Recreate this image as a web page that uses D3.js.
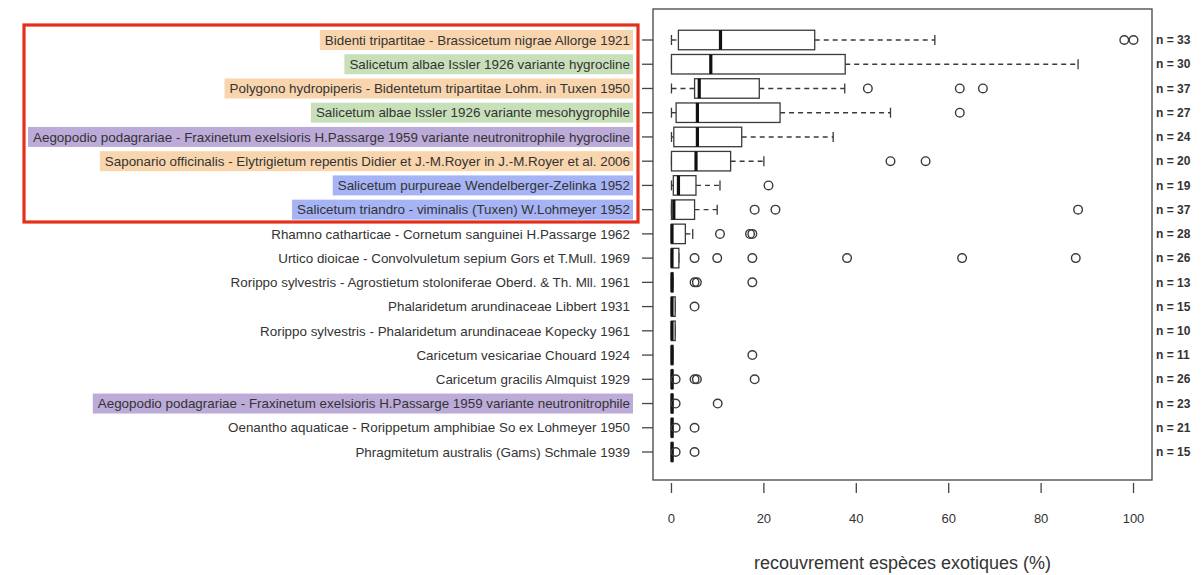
<!DOCTYPE html>
<html>
<head>
<meta charset="utf-8">
<script src="https://cdn.jsdelivr.net/npm/d3@7"></script>
<style>
  body { margin: 0; background: #fff; }
  text { font-family: "Liberation Sans", Arial, sans-serif; }
</style>
</head>
<body>
<script>
// vegetation associations, top to bottom
const categories = [
  'Bidenti tripartitae - Brassicetum nigrae Allorge 1921',
  'Salicetum albae Issler 1926 variante hygrocline',
  'Polygono hydropiperis - Bidentetum tripartitae Lohm. in Tuxen 1950',
  'Salicetum albae Issler 1926 variante mesohygrophile',
  'Aegopodio podagrariae - Fraxinetum exelsioris H.Passarge 1959 variante neutronitrophile hygrocline',
  'Saponario officinalis - Elytrigietum repentis Didier et J.-M.Royer in J.-M.Royer et al. 2006',
  'Salicetum purpureae Wendelberger-Zelinka 1952',
  'Salicetum triandro - viminalis (Tuxen) W.Lohmeyer 1952',
  'Rhamno catharticae - Cornetum sanguinei H.Passarge 1962',
  'Urtico dioicae - Convolvuletum sepium Gors et T.Mull. 1969',
  'Rorippo sylvestris - Agrostietum stoloniferae Oberd. & Th. Mll. 1961',
  'Phalaridetum arundinaceae Libbert 1931',
  'Rorippo sylvestris - Phalaridetum arundinaceae Kopecky 1961',
  'Caricetum vesicariae Chouard 1924',
  'Caricetum gracilis Almquist 1929',
  'Aegopodio podagrariae - Fraxinetum exelsioris H.Passarge 1959 variante neutronitrophile',
  'Oenantho aquaticae - Rorippetum amphibiae So ex Lohmeyer 1950',
  'Phragmitetum australis (Gams) Schmale 1939'
];

// highlight group of each label (null = none)
const highlight = ['orange', 'green', 'orange', 'green', 'purple', 'orange', 'blue', 'blue',
  null, null, null, null, null, null, null, 'purple', null, null];

const nValues = [33, 30, 37, 27, 24, 20, 19, 37, 28, 26, 13, 15, 10, 11, 26, 23, 21, 15];

// box statistics (% cover)
const whiskerLow  = [0, 0, 0, 0, 0, 0, 0, 0, 0, 0, 0, 0, 0, 0, 0, 0, 0, 0];
const q1          = [1.5, 0, 5, 1, 0.5, 0, 0.4, 0, 0, 0, 0, 0, 0, 0, 0, 0, 0, 0];
const median      = [10.5, 8.4, 5.9, 5.5, 5.5, 5.2, 1.4, 0.4, 0, 0, 0, 0, 0, 0, 0, 0, 0, 0];
const q3          = [31, 37.6, 19, 23.5, 15.2, 12.8, 5.3, 5, 3, 1.6, 0.3, 0.8, 0.8, 0.3, 0.3, 0.3, 0.3, 0.3];
const whiskerHigh = [57, 88, 37.5, 47.4, 35, 20, 10.5, 9.9, 4.6, 1.6, 0.3, 0.8, 0.8, 0.3, 0.3, 0.3, 0.3, 0.3];

const outliers = [
  [98, 100],
  [],
  [42.5, 62.4, 67.4],
  [62.4],
  [],
  [47.4, 55],
  [21],
  [18, 22.5, 88],
  [10.5, 17, 17.5],
  [5, 9.9, 17.5, 38, 62.9, 87.5],
  [5, 5.5, 17.5],
  [5],
  [],
  [17.5],
  [0.9, 5, 5.5, 18],
  [0.9, 10],
  [0.9, 5],
  [0.9, 5]
];

const xTicks = [0, 20, 40, 60, 80, 100];

const colors = {
  orange: '#f9d5ae',
  green: '#c8e0ba',
  purple: '#bcabd9',
  blue: '#a6b4f5'
};

const frame = { left: 653, right: 1152, top: 9, bottom: 480 };

const svg = d3.select('body').append('svg')
  .attr('width', 1201)
  .attr('height', 575);

svg.append('rect')
  .attr('width', 1201).attr('height', 575)
  .attr('fill', '#fff');

const x = d3.scaleLinear().domain([-4, 104]).range([frame.left, frame.right]);
const y = d3.scalePoint().domain(d3.range(categories.length)).range([40, 452]);

const boxH = 19.5;
const capH = 10;
const ink = '#3a3a3a';

// frame
svg.append('rect')
  .attr('x', frame.left).attr('y', frame.top)
  .attr('width', frame.right - frame.left)
  .attr('height', frame.bottom - frame.top)
  .attr('fill', 'none')
  .attr('stroke', '#444')
  .attr('stroke-width', 1.3);

// bottom axis ticks + labels (no axis line, like R)
const xAxis = svg.append('g').attr('transform', `translate(0, ${frame.bottom + 3})`);
xAxis.selectAll('line').data(xTicks).join('line')
  .attr('x1', d => x(d)).attr('x2', d => x(d))
  .attr('y1', 0).attr('y2', 10)
  .attr('stroke', '#444').attr('stroke-width', 1.3);
xAxis.selectAll('text').data(xTicks).join('text')
  .attr('x', d => x(d)).attr('y', 40)
  .attr('text-anchor', 'middle')
  .attr('font-size', 13)
  .attr('fill', '#333')
  .text(d => d);

svg.append('text')
  .attr('x', x(50)).attr('y', 569)
  .attr('text-anchor', 'middle')
  .attr('font-size', 18)
  .attr('fill', '#333')
  .text('recouvrement espèces exotiques (%)');

// left category ticks and labels
const rows = svg.append('g');
rows.selectAll('line.tick').data(categories).join('line')
  .attr('class', 'tick')
  .attr('x1', frame.left - 11).attr('x2', frame.left)
  .attr('y1', (d, i) => y(i)).attr('y2', (d, i) => y(i))
  .attr('stroke', '#444').attr('stroke-width', 1.3);

const labelRight = 630;
const labels = rows.selectAll('g.label').data(categories).join('g')
  .attr('class', 'label')
  .attr('transform', (d, i) => `translate(${labelRight}, ${y(i)})`);

labels.each(function(d, i) {
  const g = d3.select(this);
  const t = g.append('text')
    .attr('text-anchor', 'end')
    .attr('dy', '0.35em')
    .attr('font-size', 13.4)
    .attr('fill', '#333')
    .text(d);
  if (highlight[i]) {
    const w = t.node().getComputedTextLength();
    g.insert('rect', 'text')
      .attr('x', -w - 5).attr('y', -10)
      .attr('width', w + 8).attr('height', 20)
      .attr('fill', colors[highlight[i]]);
  }
});

// red frame round the first eight rows
svg.append('rect')
  .attr('x', 24).attr('y', 25)
  .attr('width', 638 - 24).attr('height', 222 - 25)
  .attr('fill', 'none')
  .attr('stroke', '#e3301b')
  .attr('stroke-width', 3.2);

// n counts on the right
svg.append('g').selectAll('text').data(nValues).join('text')
  .attr('x', frame.right + 4)
  .attr('y', (d, i) => y(i))
  .attr('dy', '0.35em')
  .attr('font-size', 12)
  .attr('font-weight', 'bold')
  .attr('fill', '#333')
  .text(d => `n = ${d}`);

// boxplots
const boxes = svg.append('g').selectAll('g').data(categories).join('g')
  .attr('transform', (d, i) => `translate(0, ${y(i)})`);

boxes.each(function(d, i) {
  const g = d3.select(this);
  // whiskers
  if (q1[i] > whiskerLow[i]) {
    g.append('line')
      .attr('x1', x(whiskerLow[i])).attr('x2', x(q1[i]))
      .attr('stroke', ink).attr('stroke-width', 1.4)
      .attr('stroke-dasharray', '5,4');
  }
  if (whiskerHigh[i] > q3[i]) {
    g.append('line')
      .attr('x1', x(q3[i])).attr('x2', x(whiskerHigh[i]))
      .attr('stroke', ink).attr('stroke-width', 1.4)
      .attr('stroke-dasharray', '5,4');
  }
  // staples
  [whiskerLow[i], whiskerHigh[i]].forEach(v => {
    g.append('line')
      .attr('x1', x(v)).attr('x2', x(v))
      .attr('y1', -capH / 2).attr('y2', capH / 2)
      .attr('stroke', ink).attr('stroke-width', 1.3);
  });
  // box
  g.append('rect')
    .attr('x', x(q1[i])).attr('y', -boxH / 2)
    .attr('width', Math.max(x(q3[i]) - x(q1[i]), 0.5))
    .attr('height', boxH)
    .attr('fill', '#fff')
    .attr('stroke', ink).attr('stroke-width', 1.3);
  // median
  g.append('line')
    .attr('x1', x(median[i]) + 0.5).attr('x2', x(median[i]) + 0.5)
    .attr('y1', -boxH / 2).attr('y2', boxH / 2)
    .attr('stroke', '#111').attr('stroke-width', 3.2);
  // outliers
  g.selectAll('circle').data(outliers[i]).join('circle')
    .attr('cx', v => x(v)).attr('cy', 0)
    .attr('r', 4.3)
    .attr('fill', 'none')
    .attr('stroke', ink).attr('stroke-width', 1.4);
});
</script>
</body>
</html>
